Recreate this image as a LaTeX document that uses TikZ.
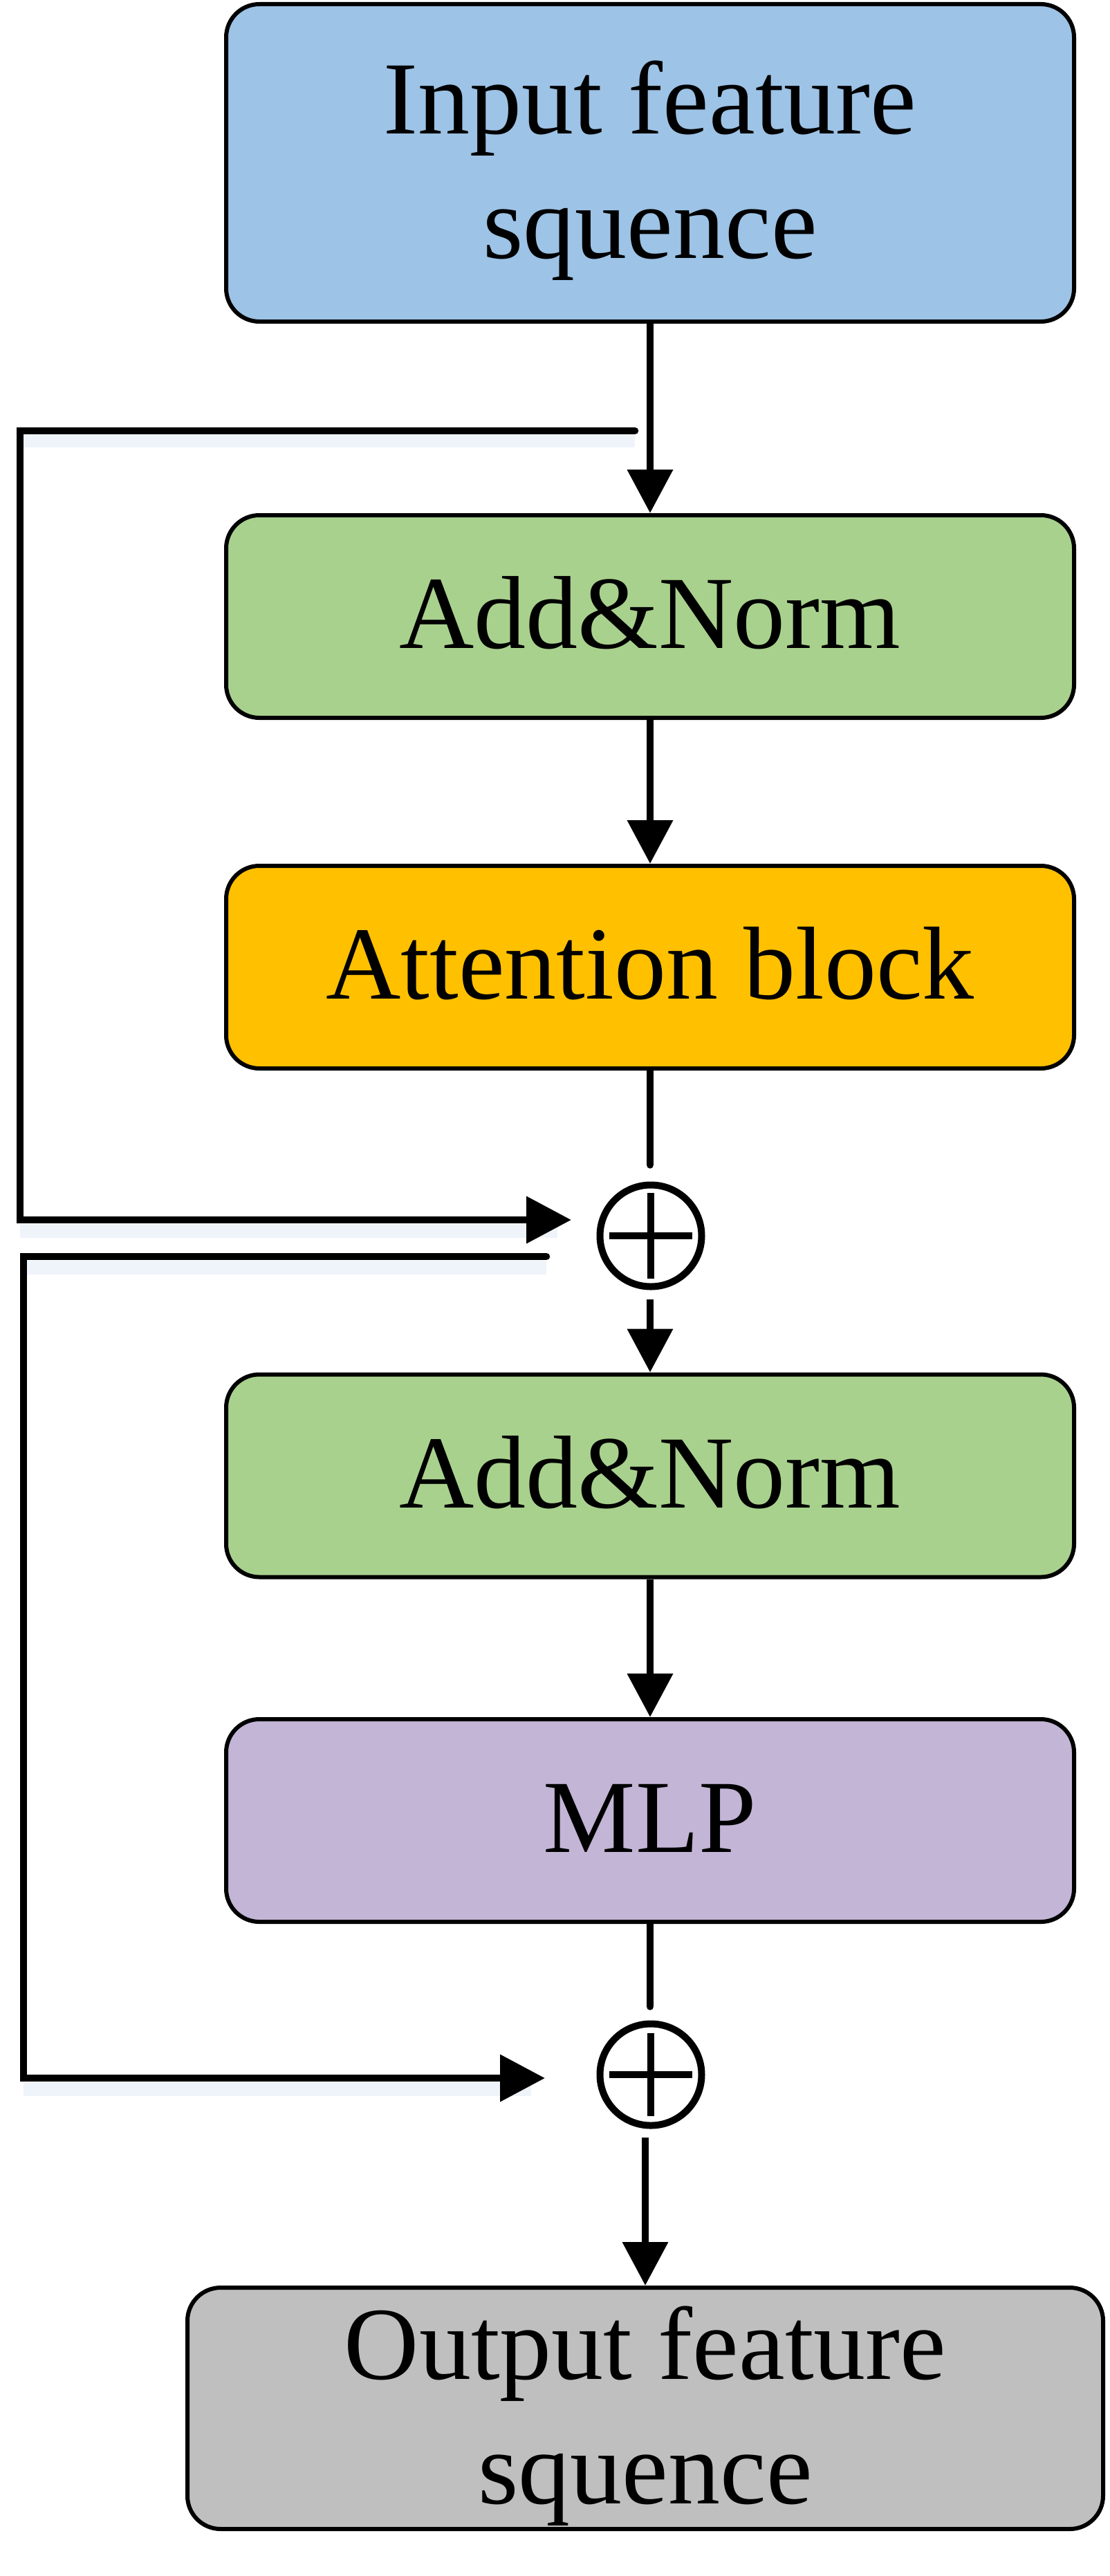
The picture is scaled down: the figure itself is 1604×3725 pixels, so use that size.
\documentclass[tikz,border=0pt]{standalone}
\usepackage{fontspec}
\setmainfont{Liberation Serif}
\usetikzlibrary{arrows.meta,calc}
\definecolor{inblue}{HTML}{9DC3E6}
\definecolor{normgreen}{HTML}{A9D18E}
\definecolor{attorange}{HTML}{FFC000}
\definecolor{mlppurple}{HTML}{C3B5D6}
\definecolor{outgray}{HTML}{BFBFBF}
\definecolor{glow}{HTML}{EFF4FB}
\begin{document}
\begin{tikzpicture}[x=1pt,y=-1pt,
  blk/.style={draw=black, line width=6pt, rounded corners=48pt, minimum width=1226pt, minimum height=293pt, inner sep=0pt},
  lbl/.style={inner sep=0pt, align=center, font=\fontsize{150}{180}\selectfont, text height=92pt, text depth=0pt},
  lbltwo/.style={inner sep=0pt, align=center, font=\fontsize{150}{180}\selectfont},
  flow/.style={draw=black, line width=10.5pt, -{Triangle[width=64pt,length=63pt]}},
  plainline/.style={draw=black, line width=10.5pt, line cap=round},
  skipline/.style={draw=black, line width=10.5pt, line cap=round, line join=miter},
  sumnode/.style={circle, draw=black, line width=10pt, minimum size=147pt, inner sep=0pt, fill=white},
  plusbar/.style={draw=black, line width=10pt},
  glowline/.style={draw=glow, line width=20pt}
]
\useasboundingbox (0,0) rectangle (1604,3725);

% boxes
\node[blk, fill=inblue, minimum height=459pt] (in) at (940,235.5) {};
\node[lbltwo] (intxt) at (940,246.5) {Input feature\\squence};
\node[blk, fill=normgreen] (g1) at (940,891.5) {};
\node[lbl] (g1txt) at (g1.center) {Add\&Norm};
\node[blk, fill=attorange] (att) at (940,1398.5) {};
\node[lbl] (atttxt) at (att.center) {Attention block};
\node[blk, fill=normgreen] (g2) at (940,2134) {};
\node[lbl] (g2txt) at (g2.center) {Add\&Norm};
\node[blk, fill=mlppurple] (mlp) at (940,2632.5) {};
\node[lbl] (mlptxt) at (mlp.center) {MLP};
\node[blk, fill=outgray, minimum width=1324pt, minimum height=349pt] (out) at (933,3482.5) {};
\node[lbltwo] (outtxt) at (933,3493.5) {Output feature\\squence};

% sum nodes
\node[sumnode] (c1) at (941,1787) {};
\draw[plusbar] ([yshift=62pt]c1.center) -- ([yshift=-62pt]c1.center);
\draw[plusbar] ([xshift=-60pt]c1.center) -- ([xshift=60pt]c1.center);
\node[sumnode] (c2) at (941,3000) {};
\draw[plusbar] ([yshift=60pt]c2.center) -- ([yshift=-60pt]c2.center);
\draw[plusbar] ([xshift=-60pt]c2.center) -- ([xshift=60pt]c2.center);

% coordinates of skip paths
\coordinate (s1start) at (918,623);
\coordinate (s1corner) at (29,623);
\coordinate (s1low) at (29,1764);
\coordinate (s1tip) at (826,1764);
\coordinate (s2start) at (790,1817);
\coordinate (s2corner) at (34,1817);
\coordinate (s2low) at (34,3005);
\coordinate (s2tip) at (788,3005);

% faint glow under horizontal skip lines
\draw[glowline] ($(s1corner)+(0,14)$) -- ($(s1start)+(0,14)$);
\draw[glowline] ($(s1low)+(0,16)$) -- ($(s1tip)+(-20,16)$);
\draw[glowline] ($(s2corner)+(0,16)$) -- ($(s2start)+(0,16)$);
\draw[glowline] ($(s2low)+(0,16)$) -- ($(s2tip)+(-20,16)$);

% main flow
\draw[flow] (in.south) -- (g1.north);
\draw[flow] (g1.south) -- (att.north);
\draw[plainline, shorten >=24pt] (att.south) -- (att.south |- c1.north);
\draw[flow, shorten <=13pt] (c1.south -| g2.north) -- (g2.north);
\draw[flow] (g2.south) -- (mlp.north);
\draw[plainline, shorten >=20pt] (mlp.south) -- (mlp.south |- c2.north);
\draw[flow, shorten <=12pt] (c2.south -| out.north) -- (out.north);

% skip connections
\draw[skipline, -{Triangle[width=66pt,length=65pt]}] (s1start) -- (s1corner) -- (s1low) -- (s1tip);
\draw[skipline, -{Triangle[width=66pt,length=65pt]}] (s2start) -- (s2corner) -- (s2low) -- (s2tip);
\end{tikzpicture}
\end{document}
